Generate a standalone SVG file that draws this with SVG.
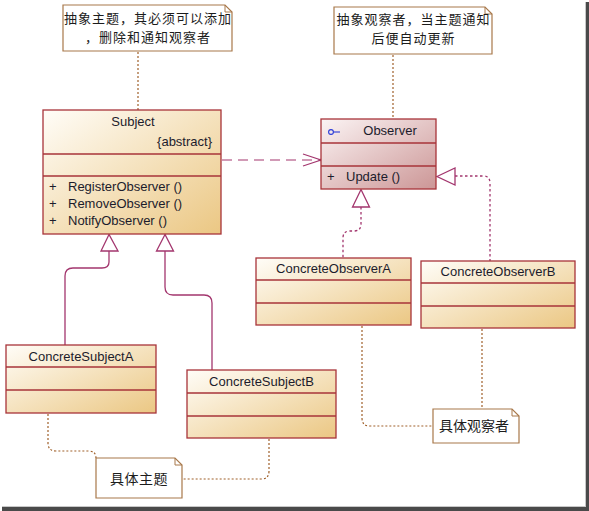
<svg xmlns="http://www.w3.org/2000/svg" width="589" height="511" viewBox="0 0 589 511">
<defs>
<linearGradient id="gCream" x1="0" y1="0" x2="1" y2="1">
<stop offset="0" stop-color="#fffdf8"/>
<stop offset="1" stop-color="#ebc783"/>
</linearGradient>
<linearGradient id="gPink" x1="0" y1="0" x2="1" y2="1">
<stop offset="0" stop-color="#fbf4f4"/>
<stop offset="1" stop-color="#cc9696"/>
</linearGradient>
<clipPath id="c1"><rect x="63" y="5" width="169" height="46"/></clipPath>
<clipPath id="c2"><rect x="334" y="7" width="158" height="47"/></clipPath>
</defs>
<style>
.cls{stroke:#a8343a;stroke-width:1.3}
.cream{fill:url(#gCream)}
.pink{fill:url(#gPink)}
.div{stroke:#a8343a;stroke-width:1.3;fill:none}
.t{font-family:"Liberation Sans","Noto Sans CJK SC",sans-serif;font-size:13px;fill:#1c1c2c}
.cn{font-family:"Noto Sans CJK SC","Liberation Sans",sans-serif;font-size:14px;fill:#1c1c1c}
.cn2{font-family:"Noto Sans CJK SC","Liberation Sans",sans-serif;font-size:13px;letter-spacing:1px;fill:#1c1c1c}
.note{fill:#ffffff;stroke:#a8784a;stroke-width:1.2}
.fold{fill:none;stroke:#a8784a;stroke-width:1}
.anchor{fill:none;stroke:#a0602a;stroke-width:1.2;stroke-dasharray:2,2}
.gen{fill:none;stroke:#a3366e;stroke-width:1.3}
.real{fill:none;stroke:#a3366e;stroke-width:1.3;stroke-dasharray:2.5,2.5}
.dep{fill:none;stroke:#a3366e;stroke-width:1.2;stroke-dasharray:10,6}
.head{fill:#ffffff;stroke:#a3366e;stroke-width:1.3}
</style>
<rect x="0" y="0" width="589" height="511" fill="#ffffff"/>
<rect x="585" y="2" width="1" height="506" fill="#c8c8c8"/>
<rect x="586" y="2" width="3" height="509" fill="#4a4a4a"/>
<rect x="2" y="506" width="584" height="1" fill="#c8c8c8"/>
<rect x="2" y="507" width="587" height="4" fill="#4a4a4a"/>

<g id="connectors">
<path class="anchor" d="M138,52 V110"/>
<path class="anchor" d="M393,55 V119"/>
<path class="dep" d="M222,160 H320"/>
<path d="M303,154 L321,160 L303,166" fill="none" stroke="#a3366e" stroke-width="1.2"/>
<circle cx="320.5" cy="160" r="1.3" fill="#a3366e"/>
<path class="gen" d="M109,251 V262 Q109,268 102,268 H73 Q65,268 65,276 V345"/>
<path class="head" d="M109,234.5 L101,251 L118,251 Z"/>
<path class="gen" d="M165,251 V287 Q165,295 173,295 H204 Q212,295 212,303 V370"/>
<path class="head" d="M165,234.5 L156.5,251 L173.5,251 Z"/>
<path class="real" d="M361,207 V224 Q361,231 354,231 H350 Q343,231 343,238 V258"/>
<path class="head" d="M361,189.5 L352.5,207 L369.5,207 Z"/>
<path class="real" d="M455,176 H483 Q490,176 490,183 V261"/>
<path class="head" d="M437,176.5 L455,168 L455,185 Z"/>
<path class="anchor" d="M48,414 V443 Q48,451 56,451 H88 Q96,451 96,458"/>
<path class="anchor" d="M269,439 V471 Q269,479 261,479 H183"/>
<path class="anchor" d="M362,326 V418 Q362,426 370,426 H433"/>
<path class="anchor" d="M482,329 V409"/>
</g>

<g id="note-subject">
<path class="note" d="M63,5 H225 L232,12 V51 H63 Z"/>
<path class="fold" d="M225,5 V12 H232"/>
<g clip-path="url(#c1)">
<text class="cn2" x="148" y="23" text-anchor="middle">抽象主题，其必须可以添加</text>
<text class="cn2" x="148" y="42" text-anchor="middle">，删除和通知观察者</text>
</g>
</g>

<g id="note-observer">
<path class="note" d="M334,7 H485 L492,14 V54 H334 Z"/>
<path class="fold" d="M485,7 V14 H492"/>
<g clip-path="url(#c2)">
<text class="cn2" x="413.5" y="24" text-anchor="middle">抽象观察者，当主题通知</text>
<text class="cn2" x="413.5" y="43" text-anchor="middle">后便自动更新</text>
</g>
</g>

<g id="Subject">
<rect class="cls cream" x="43" y="110" width="178" height="124"/>
<path class="div" d="M43,154 H221 M43,176 H221"/>
<text class="t" x="133" y="126" text-anchor="middle">Subject</text>
<text class="t" x="212" y="146" text-anchor="end">{abstract}</text>
<text class="t" x="49" y="191">+</text>
<text class="t" x="68" y="191">RegisterObserver ()</text>
<text class="t" x="49" y="208">+</text>
<text class="t" x="68" y="208">RemoveObserver ()</text>
<text class="t" x="49" y="225">+</text>
<text class="t" x="68" y="225">NotifyObserver ()</text>
</g>

<g id="Observer">
<rect class="cls pink" x="321" y="119" width="115" height="70"/>
<path class="div" d="M321,143 H436 M321,166 H436"/>
<circle cx="331" cy="132" r="2.4" fill="none" stroke="#2a3ad8" stroke-width="1.1"/>
<path d="M333.4,132 H340" stroke="#2a3ad8" stroke-width="1.1"/>
<text class="t" x="390" y="135" text-anchor="middle">Observer</text>
<text class="t" x="327" y="181">+</text>
<text class="t" x="346" y="181">Update ()</text>
</g>

<g id="ConcreteObserverA">
<rect class="cls cream" x="256" y="258" width="155" height="67"/>
<path class="div" d="M256,280 H411 M256,303 H411"/>
<text class="t" x="333.5" y="273" text-anchor="middle">ConcreteObserverA</text>
</g>

<g id="ConcreteObserverB">
<rect class="cls cream" x="421" y="261" width="154" height="67"/>
<path class="div" d="M421,283 H575 M421,306 H575"/>
<text class="t" x="498" y="276" text-anchor="middle">ConcreteObserverB</text>
</g>

<g id="ConcreteSubjectA">
<rect class="cls cream" x="6" y="345" width="150" height="68"/>
<path class="div" d="M6,367 H156 M6,390 H156"/>
<text class="t" x="81" y="361" text-anchor="middle">ConcreteSubjectA</text>
</g>

<g id="ConcreteSubjectB">
<rect class="cls cream" x="187" y="370" width="149" height="68"/>
<path class="div" d="M187,393 H336 M187,416 H336"/>
<text class="t" x="261.5" y="386" text-anchor="middle">ConcreteSubjectB</text>
</g>

<g id="note-concrete-subject">
<path class="note" d="M96,458 H175 L182,465 V498 H96 Z"/>
<path class="fold" d="M175,458 V465 H182"/>
<text class="cn" x="110" y="484" letter-spacing="0.5">具体主题</text>
</g>

<g id="note-concrete-observer">
<path class="note" d="M433,409 H512 L519,416 V443 H433 Z"/>
<path class="fold" d="M512,409 V416 H519"/>
<text class="cn" x="439" y="431">具体观察者</text>
</g>
</svg>
